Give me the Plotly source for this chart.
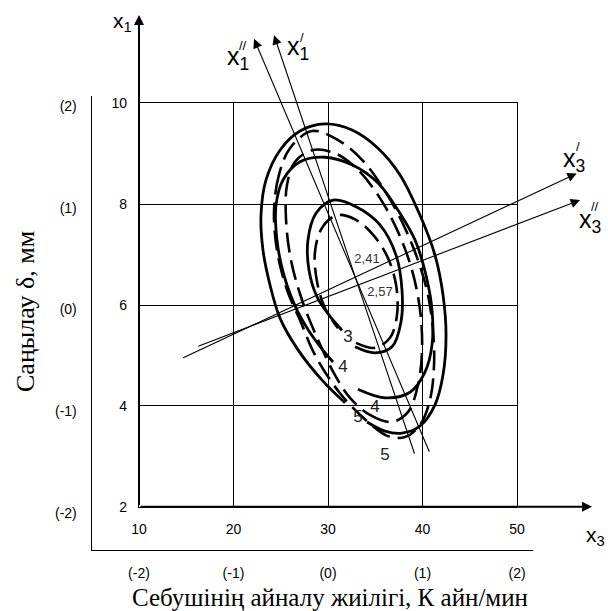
import plotly.graph_objects as go

# ---------------- axis values ----------------
X_TICKS = [10, 20, 30, 40, 50]          # rotation frequency, natural units
Y_TICKS = [2, 4, 6, 8, 10]              # gap, mm
CODED_VALS = [-2, -1, 0, 1, 2]          # coded factor levels
CODED_TEXT = ["(-2)", "(-1)", "(0)", "(1)", "(2)"]

# ---------------- response contours ----------------
# solid contours (open where the level label sits)
S5_X = [34.13, 36.03, 37.83, 39.74, 41.32, 42.17, 42.49, 42.17, 41.32, 39.74, 37.62, 35.29,
        32.54, 29.68, 27.04, 24.92, 23.44, 22.91, 23.12, 23.86, 24.92, 26.83, 29.37, 31.80]
S5_Y = [3.68, 3.50, 3.46, 3.60, 4.02, 4.61, 5.40, 6.20, 6.99, 7.78, 8.58, 9.11,
        9.47, 9.59, 9.45, 9.07, 8.48, 7.78, 7.09, 6.40, 5.74, 5.11, 4.51, 4.06]

S4_X = [33.17, 36.03, 38.68, 40.26, 41.01, 41.01, 40.37, 39.21, 37.41, 35.29, 32.54, 29.68,
        27.04, 25.24, 24.50, 24.60, 25.34, 26.72, 28.62, 30.53]
S4_Y = [4.33, 4.16, 4.27, 4.67, 5.21, 5.90, 6.59, 7.29, 7.88, 8.42, 8.78, 8.93,
        8.84, 8.48, 7.98, 7.29, 6.59, 5.90, 5.31, 4.87]

S3_X = [32.86, 34.97, 36.77, 37.72, 37.83, 37.20, 35.50, 33.07, 30.53, 28.73, 27.88, 27.99,
        28.84, 30.11, 31.48]
S3_Y = [5.17, 5.05, 5.17, 5.66, 6.30, 6.99, 7.59, 7.94, 8.08, 7.82, 7.29, 6.69,
        6.16, 5.80, 5.50]

# dashed contours (closed)
D5_X = [25.98, 24.81, 24.29, 24.60, 25.66, 27.04, 28.62, 31.27, 34.23, 36.35, 38.15, 39.74,
        40.79, 41.22, 41.11, 40.58, 39.52, 37.83, 35.82, 33.60, 31.06, 28.31, 25.98]
D5_Y = [9.11, 8.58, 7.88, 7.09, 6.30, 5.70, 5.01, 4.25, 3.68, 3.40, 3.38, 3.62,
        4.12, 4.81, 5.50, 6.20, 6.89, 7.65, 8.32, 8.88, 9.27, 9.45, 9.11]

D4_X = [32.33, 34.44, 36.77, 38.47, 39.52, 39.95, 39.74, 38.89, 37.41, 35.50, 33.17, 30.74,
        28.31, 26.51, 25.66, 25.56, 26.08, 27.25, 28.94, 30.74, 32.33]
D4_Y = [4.16, 3.82, 3.68, 3.88, 4.41, 5.11, 5.90, 6.69, 7.45, 8.12, 8.68, 9.01,
        9.07, 8.84, 8.38, 7.69, 6.89, 6.10, 5.31, 4.61, 4.16]

D3_X = [32.96, 34.97, 36.56, 37.30, 37.20, 36.35, 34.87, 32.96, 30.95, 29.37, 28.62, 28.84,
        29.68, 31.06]
D3_Y = [5.25, 5.15, 5.35, 5.80, 6.40, 6.93, 7.37, 7.69, 7.78, 7.53, 7.05, 6.46,
        5.94, 5.54]

# level labels and centre values
LEVEL_TEXT = ["3", "4", "4", "5", "5"]
LEVEL_X = [32.12, 31.59, 34.97, 33.17, 36.03]
LEVEL_Y = [5.35, 4.75, 3.96, 3.76, 3.02]
CENTRE_TEXT = ["2,41", "2,57"]
CENTRE_X = [34.13, 35.50]
CENTRE_Y = [6.89, 6.24]

# principal axes of the two surfaces: tail (x, y) -> head (x, y)
PA_TAIL_X = [40.79, 39.21, 14.52, 16.11]
PA_TAIL_Y = [3.06, 3.02, 4.94, 5.17]
PA_HEAD_X = [22.17, 24.29, 56.32, 56.67]
PA_HEAD_Y = [11.28, 11.35, 8.61, 8.08]

FONT_SANS = "Liberation Sans, Arial, sans-serif"
FONT_SERIF = "Liberation Serif, Times New Roman, serif"

W, H = 608, 611


def px_x(px):
    return px / W


def px_y(py):
    return 1 - py / H


fig = go.Figure()

solid = dict(color="black", width=2.8)
dashed = dict(color="black", width=2.6, dash="20px,8px")
for xs, ys in [(S5_X, S5_Y), (S4_X, S4_Y), (S3_X, S3_Y)]:
    fig.add_trace(go.Scatter(x=xs, y=ys, mode="lines", line=dict(shape="spline", **solid),
                             hoverinfo="skip"))
for xs, ys in [(D5_X, D5_Y), (D4_X, D4_Y), (D3_X, D3_Y)]:
    fig.add_trace(go.Scatter(x=xs, y=ys, mode="lines", line=dict(shape="spline", **dashed),
                             hoverinfo="skip"))

fig.add_trace(go.Scatter(x=LEVEL_X, y=LEVEL_Y, mode="text", text=LEVEL_TEXT,
                         textfont=dict(family=FONT_SANS, size=17, color="#222"),
                         hoverinfo="skip"))
fig.add_trace(go.Scatter(x=CENTRE_X, y=CENTRE_Y, mode="text", text=CENTRE_TEXT,
                         textfont=dict(family=FONT_SANS, size=13, color="#333"),
                         hoverinfo="skip"))

# coded-level frame lives on its own pair of axes
fig.add_trace(go.Scatter(x=[None], y=[None], xaxis="x2", yaxis="y2", hoverinfo="skip"))

annotations = []
# principal axes with arrowheads
for tx, ty, hx, hy in zip(PA_TAIL_X, PA_TAIL_Y, PA_HEAD_X, PA_HEAD_Y):
    annotations.append(dict(x=hx, y=hy, ax=tx, ay=ty, xref="x", yref="y", axref="x", ayref="y",
                            text="", showarrow=True, arrowhead=2, arrowsize=1.7,
                            arrowwidth=1.1, arrowcolor="black"))
# main factor axes x1 (up) and x3 (right)
annotations.append(dict(x=X_TICKS[0], y=11.75, ax=X_TICKS[0], ay=Y_TICKS[0], xref="x", yref="y",
                        axref="x", ayref="y", text="", showarrow=True, arrowhead=2,
                        arrowsize=1.0, arrowwidth=2, arrowcolor="black"))
annotations.append(dict(x=57.94, y=Y_TICKS[0], ax=X_TICKS[0], ay=Y_TICKS[0], xref="x", yref="y",
                        axref="x", ayref="y", text="", showarrow=True, arrowhead=2,
                        arrowsize=1.0, arrowwidth=2, arrowcolor="black"))


def label(text, px, py, size, family=FONT_SANS, angle=0):
    annotations.append(dict(text=text, x=px_x(px), y=px_y(py), xref="paper", yref="paper",
                            xanchor="center", yanchor="middle", showarrow=False,
                            textangle=angle, font=dict(family=family, size=size, color="black")))


label("x<sub>1</sub>", 122, 22, 21)
label("x<sub>3</sub>", 595, 536, 21)
label("x<sub>1</sub>", 238, 58, 25)
label("//", 243, 45, 13)
label("x<sub>1</sub>", 298, 48, 25)
label("/", 302, 37, 13)
label("x<sub>3</sub>", 574, 160, 25)
label("/", 578, 146, 13)
label("x<sub>3</sub>", 590, 221, 25)
label("//", 595, 207, 13)
label("Саңылау δ, мм", 25, 312, 26, FONT_SERIF, -90)
label("Себушінің айналу жиілігі, К айн/мин", 330, 597, 25, FONT_SERIF)

tickfont = dict(family=FONT_SANS, size=14, color="black")
fig.update_layout(
    width=W, height=H,
    margin=dict(l=0, r=0, t=0, b=0, autoexpand=False),
    paper_bgcolor="white", plot_bgcolor="rgba(0,0,0,0)",
    showlegend=False,
    annotations=annotations,
    xaxis=dict(domain=[px_x(139), px_x(517)], range=[10, 50], tickvals=X_TICKS,
               showgrid=True, gridcolor="black", gridwidth=1.3, zeroline=False,
               showline=True, mirror=True, linecolor="black", linewidth=1.3,
               ticks="", tickfont=tickfont, ticklabelstandoff=9, fixedrange=True),
    yaxis=dict(domain=[px_y(506.7), px_y(103.3)], range=[2, 10], tickvals=Y_TICKS,
               showgrid=True, gridcolor="black", gridwidth=1.3, zeroline=False,
               showline=True, mirror=True, linecolor="black", linewidth=1.3,
               ticks="", tickfont=tickfont, ticklabelstandoff=8, fixedrange=True),
    xaxis2=dict(domain=[px_x(90.7), px_x(533)], range=[-2.511, 2.169], anchor="free",
                position=px_y(550), tickvals=CODED_VALS, ticktext=CODED_TEXT,
                showgrid=False, zeroline=False, showline=True, linecolor="black",
                linewidth=1.3, ticks="", tickfont=tickfont, ticklabelstandoff=10),
    yaxis2=dict(domain=[px_y(550), px_y(95.7)], range=[-2.364, 2.101], anchor="free",
                position=px_x(90.7), tickvals=CODED_VALS, ticktext=CODED_TEXT,
                showgrid=False, zeroline=False, showline=True, linecolor="black",
                linewidth=1.3, ticks="", tickfont=tickfont, ticklabelstandoff=11),
)

fig.write_html("out.html")
